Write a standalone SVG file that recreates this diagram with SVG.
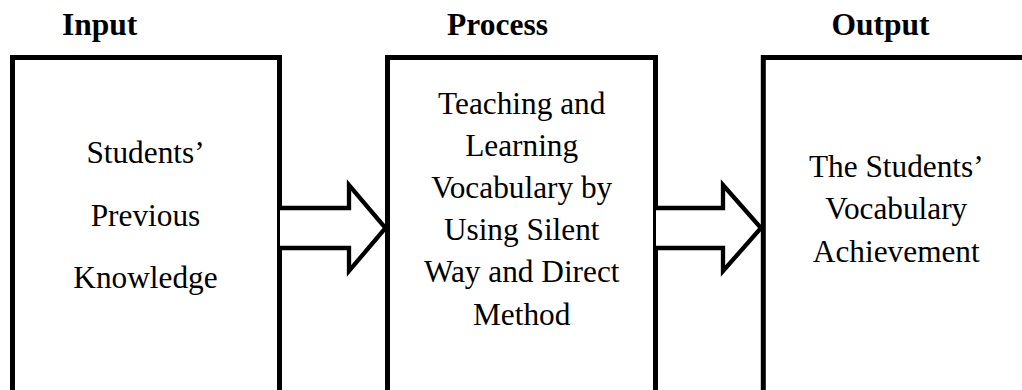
<svg xmlns="http://www.w3.org/2000/svg" width="1022" height="390" viewBox="0 0 1022 390">
<style>
.box{fill:#fff;stroke:#000;stroke-width:5}
.arrow{fill:#fff;stroke:#000;stroke-width:4.3;stroke-linejoin:miter}
.title{font-family:"Liberation Serif","Times New Roman",serif;font-weight:bold;font-size:31.5px;text-anchor:middle;fill:#000}
.body{font-family:"Liberation Serif","Times New Roman",serif;font-size:31.3px;text-anchor:middle;fill:#000}
</style>
<rect width="1022" height="390" fill="#fff"/>
<g id="titles">
<text class="title" x="99.7" y="35">Input</text>
<text class="title" x="497.5" y="35">Process</text>
<text class="title" x="880.5" y="35">Output</text>
</g>
<g id="node-input">
<rect class="box" x="12.5" y="57.5" width="267" height="360"/>
<text class="body" x="145.5" y="163.3">Students’</text>
<text class="body" x="145.5" y="225.5">Previous</text>
<text class="body" x="145.5" y="288.3">Knowledge</text>
</g>
<g id="node-process">
<rect class="box" x="387.5" y="57.5" width="268" height="360"/>
<text class="body" x="521.7" y="113.5">Teaching and</text>
<text class="body" x="521.7" y="155.7">Learning</text>
<text class="body" x="521.7" y="197.9">Vocabulary by</text>
<text class="body" x="521.7" y="240.1">Using Silent</text>
<text class="body" x="521.7" y="282.3">Way and Direct</text>
<text class="body" x="521.7" y="324.5">Method</text>
</g>
<g id="node-output">
<rect class="box" x="763.3" y="57.5" width="300" height="360"/>
<text class="body" x="896.3" y="176.7">The Students’</text>
<text class="body" x="896.3" y="219">Vocabulary</text>
<text class="body" x="896.3" y="261.5">Achievement</text>
</g>
<g id="connectors">
<path class="arrow" d="M280,208 H349 V185 L385.5,228 L349,271 V248 H280"/>
<path class="arrow" d="M656,208 H723 V185 L761,228 L723,271 V248 H656"/>
</g>
</svg>
